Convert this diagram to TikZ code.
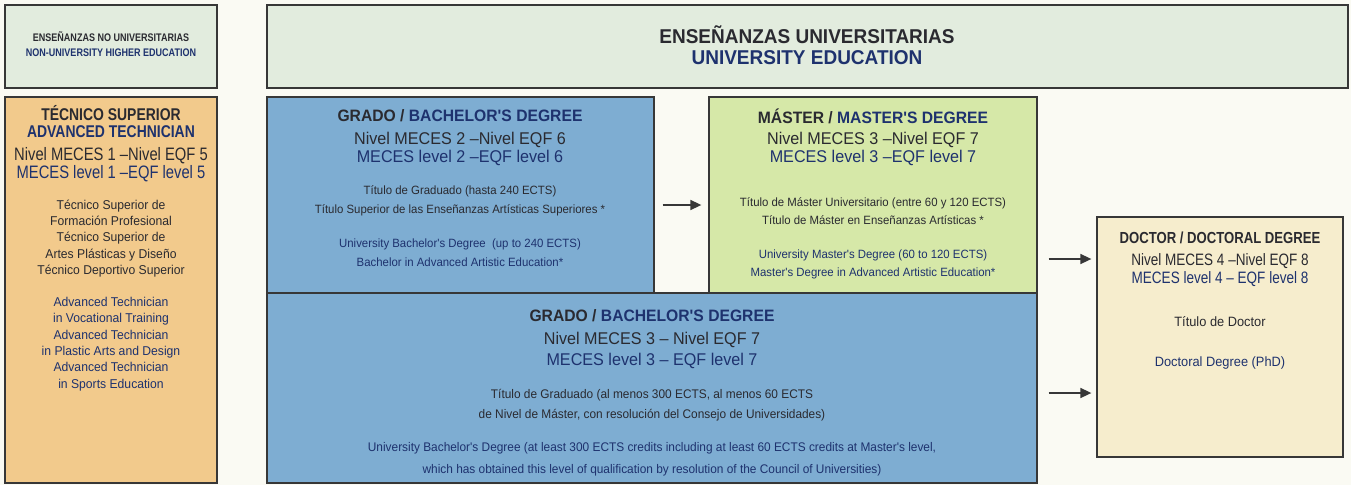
\documentclass[tikz,border=0pt]{standalone}
\usepackage{fontspec}
\setmainfont{Liberation Sans}
\newfontfamily\qfsans{Liberation Sans}[FakeStretch=0.95]
\newfontfamily\qfnarrow{Liberation Sans}[FakeStretch=0.95]
\newfontfamily\qftight{Liberation Sans}[FakeStretch=0.82]
\usetikzlibrary{arrows.meta,positioning}
\definecolor{qfpaper}{RGB}{250,250,243}
\definecolor{qfline}{RGB}{55,55,55}
\definecolor{qfdark}{RGB}{42,42,48}
\definecolor{qfnavy}{RGB}{30,50,110}
\definecolor{qfhead}{RGB}{226,236,222}
\definecolor{qforange}{RGB}{242,202,140}
\definecolor{qfblue}{RGB}{126,173,210}
\definecolor{qfgreen}{RGB}{214,232,168}
\definecolor{qfcream}{RGB}{246,237,205}
\tikzstyle{arrow} = [line width=1.6pt,-{Triangle[length=11pt,width=10pt]},color=qfline]
\tikzstyle{qfbox} = [rectangle, draw=qfline, line width=1.3pt, inner sep=0pt]
\tikzstyle{headtext} = [font=\qfsans\bfseries\fontsize{20}{21}\selectfont, align=center, inner sep=0pt, text=qfdark]
\tikzstyle{boxtitle} = [font=\qfsans\bfseries\fontsize{16.5}{17}\selectfont, align=center, inner sep=0pt, text=qfdark]
\tikzstyle{meces} = [font=\qfsans\fontsize{17}{18}\selectfont, align=center, inner sep=0pt, text=qfdark]
\tikzstyle{finetext} = [font=\qfnarrow\fontsize{12}{19}\selectfont, align=center, inner sep=0pt, text=qfdark]

\begin{document}
\begin{tikzpicture}[x=1pt, y=-1pt]
\fill[qfpaper] (0,0) rectangle (1351,485);
\useasboundingbox (0,0) rectangle (1351,485);

% Headers
\node (nonuni) [qfbox, fill=qfhead, minimum width=212pt, minimum height=83pt] at (111,46.5) {};
\node (uni) [qfbox, fill=qfhead, minimum width=1081pt, minimum height=83pt] at (807.5,46.5) {};
\node (nonunitxt) [headtext, font=\qftight\bfseries\fontsize{11}{15}\selectfont] at (111,44.5) {ENSEÑANZAS NO UNIVERSITARIAS\\\textcolor{qfnavy}{NON-UNIVERSITY HIGHER EDUCATION}};
\node (unitxt) [headtext] at (807,45) {ENSEÑANZAS UNIVERSITARIAS\\\textcolor{qfnavy}{UNIVERSITY EDUCATION}};

% Tecnico superior
\node (tecnico) [qfbox, fill=qforange, minimum width=212pt, minimum height=386pt] at (111,290) {};
\node (tectitle) [boxtitle, font=\qftight\bfseries\fontsize{17}{17}\selectfont] at (111,121.5) {TÉCNICO SUPERIOR\\\textcolor{qfnavy}{ADVANCED TECHNICIAN}};
\node (teclevel) [meces, font=\qftight\fontsize{18}{18}\selectfont] at (111,165) {Nivel MECES 1 –Nivel EQF 5\\\textcolor{qfnavy}{MECES level 1 –EQF level 5}};
\node (tecES) [finetext, font=\qfnarrow\fontsize{12.8}{16.3}\selectfont] at (111,238.5) {Técnico Superior de\\Formación Profesional\\Técnico Superior de\\Artes Plásticas y Diseño\\Técnico Deportivo Superior};
\node (tecEN) [finetext, font=\qfnarrow\fontsize{12.8}{16.4}\selectfont, text=qfnavy] at (111,344) {Advanced Technician\\in Vocational Training\\Advanced Technician\\in Plastic Arts and Design\\Advanced Technician\\in Sports Education};

% Grado (240)
\node (grado) [qfbox, fill=qfblue, minimum width=387pt, minimum height=196pt] at (460.5,195) {};
\node (gradotitle) [boxtitle] at (460,116) {GRADO / \textcolor{qfnavy}{BACHELOR'S DEGREE}};
\node (gradolevel) [meces] at (460,149) {Nivel MECES 2 –Nivel EQF 6\\\textcolor{qfnavy}{MECES level 2 –EQF level 6}};
\node (gradoES) [finetext] at (460,200.5) {Título de Graduado (hasta 240 ECTS)\\Título Superior de las Enseñanzas Artísticas Superiores *};
\node (gradoEN) [finetext, text=qfnavy] at (460,252.5) {University Bachelor's Degree \ (up to 240 ECTS)\\Bachelor in Advanced Artistic Education*};

% Master
\node (master) [qfbox, fill=qfgreen, minimum width=328pt, minimum height=196pt] at (873,195) {};
\node (mastertitle) [boxtitle] at (873,116) {MÁSTER / \textcolor{qfnavy}{MASTER'S DEGREE}};
\node (masterlevel) [meces] at (873,149) {Nivel MECES 3 –Nivel EQF 7\\\textcolor{qfnavy}{MECES level 3 –EQF level 7}};
\node (masterES) [finetext, font=\qfnarrow\fontsize{12}{18}\selectfont] at (873,211) {Título de Máster Universitario (entre 60 y 120 ECTS)\\Título de Máster en Enseñanzas Artísticas *};
\node (masterEN) [finetext, font=\qfnarrow\fontsize{12}{18}\selectfont, text=qfnavy] at (873,264) {University Master's Degree (60 to 120 ECTS)\\Master's Degree in Advanced Artistic Education*};

% Grado (300)
\node (gradoplus) [qfbox, fill=qfblue, minimum width=770pt, minimum height=190pt] at (652,388) {};
\node (plustitle) [boxtitle] at (652,316) {GRADO / \textcolor{qfnavy}{BACHELOR'S DEGREE}};
\node (pluslevel) [meces, font=\qfsans\fontsize{17}{21}\selectfont] at (652,350.5) {Nivel MECES 3 – Nivel EQF 7\\\textcolor{qfnavy}{MECES level 3 – EQF level 7}};
\node (plusES) [finetext, font=\qfnarrow\fontsize{12.5}{20}\selectfont] at (652,405) {Título de Graduado (al menos 300 ECTS, al menos 60 ECTS\\de Nivel de Máster, con resolución del Consejo de Universidades)};
\node (plusEN) [finetext, font=\qfnarrow\fontsize{12.5}{22}\selectfont, text=qfnavy] at (652,459) {University Bachelor's Degree (at least 300 ECTS credits including at least 60 ECTS credits at Master's level,\\which has obtained this level of qualification by resolution of the Council of Universities)};

% Doctor
\node (doctor) [qfbox, fill=qfcream, minimum width=246pt, minimum height=240pt] at (1220,337) {};
\node (doctortitle) [boxtitle, font=\qftight\bfseries\fontsize{16}{16}\selectfont] at (1220,238) {DOCTOR / DOCTORAL DEGREE};
\node (doctorlevel) [meces, font=\qftight\fontsize{16.5}{18}\selectfont] at (1220,270) {Nivel MECES 4 –Nivel EQF 8\\\textcolor{qfnavy}{MECES level 4 – EQF level 8}};
\node (doctorES) [finetext, font=\qfnarrow\fontsize{13.5}{16}\selectfont] at (1220,322) {Título de Doctor};
\node (doctorEN) [finetext, font=\qfnarrow\fontsize{13.5}{16}\selectfont, text=qfnavy] at (1220,363) {Doctoral Degree (PhD)};

% Arrows
\draw[arrow, shorten <=8pt, shorten >=7pt] ([yshift=-10pt]grado.east) -- ([yshift=-10pt]master.west);
\draw[arrow, shorten <=11pt, shorten >=5pt] ([yshift=-64pt]master.east) -- ([yshift=78pt]doctor.west);
\draw[arrow, shorten <=11pt, shorten >=5pt] ([yshift=-5pt]gradoplus.east) -- ([yshift=-56pt]doctor.west);
\end{tikzpicture}
\end{document}
